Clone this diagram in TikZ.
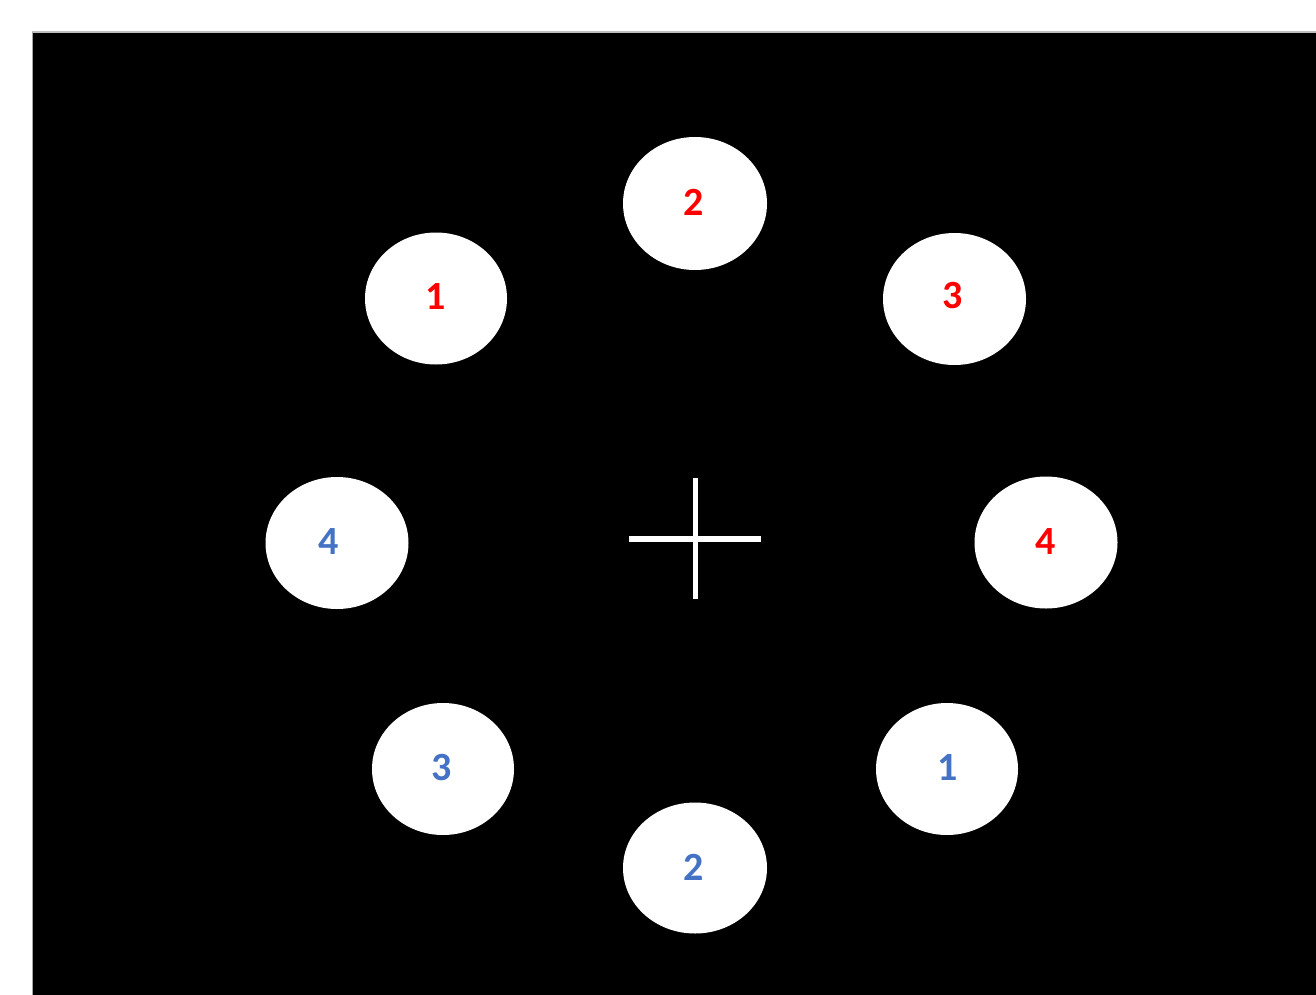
\documentclass[tikz,border=0pt]{standalone}
\usepackage{fontspec}
\setmainfont{Carlito}
\definecolor{redtxt}{RGB}{255,0,0}
\definecolor{bluetxt}{RGB}{68,114,196}
\begin{document}
\begin{tikzpicture}[x=1pt,y=-1pt,
  numlab/.style={font=\fontsize{40}{40}\selectfont\bfseries, inner sep=0pt},
  redlab/.style={numlab, text=redtxt},
  bluelab/.style={numlab, text=bluetxt},
  crossline/.style={draw=white, line width=5.5pt}
]
\useasboundingbox (0,0) rectangle (1316,995);
\fill[white] (0,0) rectangle (1316,995);
\fill[black] (32,32) rectangle (1320,1000);
\draw[gray!50, line width=2pt] (32,32) -- (1316,32);
\draw[gray!70, line width=1pt] (32,32) -- (32,995);
% discs
\fill[white] (695,203.5) ellipse [x radius=72, y radius=66.5];
\fill[white] (436,298.5) ellipse [x radius=71, y radius=66];
\fill[white] (954.5,299) ellipse [x radius=71.5, y radius=66];
\fill[white] (337,543) ellipse [x radius=71.5, y radius=66];
\fill[white] (1046,542.5) ellipse [x radius=71.5, y radius=66];
\fill[white] (443,769) ellipse [x radius=71, y radius=66];
\fill[white] (947,769) ellipse [x radius=71, y radius=66];
\fill[white] (695,868) ellipse [x radius=72, y radius=65.5];
% labels
\node[redlab] (r2) at (694,202) {2};
\node[redlab] (r1) at (436,297) {1};
\node[redlab] (r3) at (953,296) {3};
\node[redlab] (r4) at (1046,542) {4};
\node[bluelab] (b4) at (329,542) {4};
\node[bluelab] (b3) at (442,768) {3};
\node[bluelab] (b1) at (948,768) {1};
\node[bluelab] (b2) at (694,867) {2};
% fixation cross
\coordinate (cl) at (629,539);
\coordinate (cr) at (761,539);
\coordinate (ct) at (695.5,478);
\coordinate (cb) at (695.5,599);
\draw[crossline] (cl) -- (cr);
\draw[crossline] (ct) -- (cb);
\end{tikzpicture}
\end{document}
